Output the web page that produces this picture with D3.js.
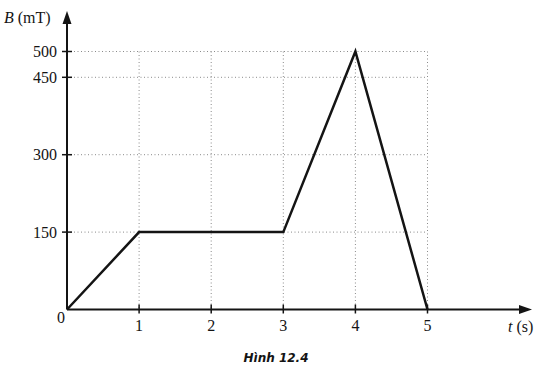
<!DOCTYPE html>
<html>
<head>
<meta charset="utf-8">
<script src="https://d3js.org/d3.v7.min.js"></script>
<style>
  body { margin: 0; background: #fff; }
  svg { display: block; }
</style>
</head>
<body>
<div id="chart"></div>
<script>
// Data ----------------------------------------------------------------------->
const t_values = [0, 1, 3, 4, 5];
const b_values = [0, 150, 150, 500, 0];
const x_ticks = [1, 2, 3, 4, 5];
const y_ticks = [150, 300, 450, 500];

// Setup ---------------------------------------------------------------------->
const width = 541, height = 366;
const svg = d3.select('#chart')
  .append('svg')
    .attr('width', width)
    .attr('height', height);

const x = d3.scaleLinear().domain([0, 5]).range([67, 427.5]);
const y = d3.scaleLinear().domain([0, 500]).range([309.5, 51.5]);
const ink = '#141414';
const serif = '"Liberation Serif", "DejaVu Serif", serif';
const label_font = `16px ${serif}`;

// Grid lines
const grid = svg.append('g')
    .attr('stroke', '#8a8a8a')
    .attr('stroke-width', 1)
    .attr('stroke-dasharray', '1,2.5');
grid.selectAll('line.h')
  .data(y_ticks)
  .join('line')
    .attr('x1', x(0)).attr('x2', x(5))
    .attr('y1', d => y(d)).attr('y2', d => y(d));
grid.selectAll('line.v')
  .data(x_ticks)
  .join('line')
    .attr('x1', d => x(d)).attr('x2', d => x(d))
    .attr('y1', y(500)).attr('y2', y(0));

// Axes
const axes = svg.append('g').attr('stroke', ink).attr('stroke-width', 2);
axes.append('line')
  .attr('x1', x(0)).attr('x2', 522)
  .attr('y1', y(0)).attr('y2', y(0));
axes.append('line')
  .attr('x1', x(0)).attr('x2', x(0))
  .attr('y1', y(0)).attr('y2', 20);
svg.append('path')
  .attr('d', `M532,${y(0)} L519,${y(0) - 4.5} L519,${y(0) + 4.5} Z`)
  .attr('fill', ink);
svg.append('path')
  .attr('d', `M${x(0)},11 L${x(0) - 4.5},24 L${x(0) + 4.5},24 Z`)
  .attr('fill', ink);

// Tick marks
axes.selectAll('line.xt')
  .data(x_ticks)
  .join('line')
    .attr('stroke-width', 1.5)
    .attr('x1', d => x(d)).attr('x2', d => x(d))
    .attr('y1', y(0) - 5).attr('y2', y(0) + 4);
axes.selectAll('line.yt')
  .data(y_ticks)
  .join('line')
    .attr('stroke-width', 1.5)
    .attr('x1', x(0) - 5).attr('x2', x(0) + 5)
    .attr('y1', d => y(d)).attr('y2', d => y(d));

// Tick labels
svg.selectAll('text.xl')
  .data(x_ticks)
  .join('text')
    .attr('x', d => x(d))
    .attr('y', 331)
    .attr('text-anchor', 'middle')
    .style('font', label_font)
    .style('fill', ink)
    .text(d => d);
svg.selectAll('text.yl')
  .data(y_ticks)
  .join('text')
    .attr('x', 57)
    .attr('y', d => y(d) + 5.5)
    .attr('text-anchor', 'end')
    .style('font', label_font)
    .style('fill', ink)
    .text(d => d);
svg.append('text')
  .attr('x', 61).attr('y', 323)
  .attr('text-anchor', 'middle')
  .style('font', label_font)
  .style('fill', ink)
  .text('0');

// Axis titles
const y_title = svg.append('text')
  .attr('x', 4).attr('y', 23)
  .style('font', label_font)
  .style('fill', ink);
y_title.append('tspan').style('font-style', 'italic').text('B');
y_title.append('tspan').text(' (mT)');

const x_title = svg.append('text')
  .attr('x', 508).attr('y', 332)
  .style('font', label_font)
  .style('fill', ink);
x_title.append('tspan').style('font-style', 'italic').text('t');
x_title.append('tspan').text(' (s)');

// Data line
const line = d3.line()
  .x((d, i) => x(t_values[i]))
  .y(d => y(d));
svg.append('path')
  .datum(b_values)
  .attr('d', line)
  .attr('fill', 'none')
  .attr('stroke', ink)
  .attr('stroke-width', 2.5)
  .attr('stroke-linejoin', 'miter');

// Caption
svg.append('text')
  .attr('x', 276).attr('y', 362)
  .attr('text-anchor', 'middle')
  .style('font', 'italic bold 12px "DejaVu Sans", sans-serif')
  .style('fill', ink)
  .text('Hình 12.4');
</script>
</body>
</html>
